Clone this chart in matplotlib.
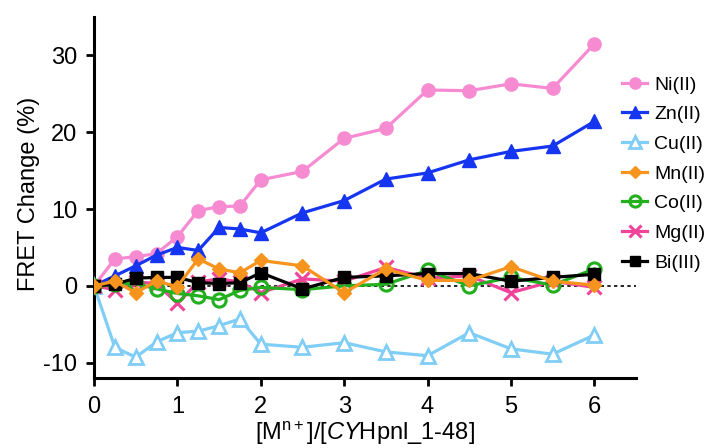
import numpy as np
import matplotlib
matplotlib.use("Agg")
import matplotlib.pyplot as plt

plt.rcParams['font.family'] = ['Liberation Sans', 'DejaVu Sans']
plt.rcParams['mathtext.fontset'] = 'custom'
plt.rcParams['mathtext.rm'] = 'Liberation Sans'
plt.rcParams['mathtext.it'] = 'Liberation Sans:italic'
plt.rcParams['axes.unicode_minus'] = False

# titration points (metal : sensor ratio)
ratio = [0, 0.25, 0.5, 0.75, 1, 1.25, 1.5, 1.75, 2, 2.5, 3, 3.5, 4, 4.5, 5, 5.5, 6]

ni = [0, 3.5, 3.8, 4.2, 6.4, 9.8, 10.3, 10.4, 13.8, 14.9, 19.2, 20.5, 25.5, 25.4, 26.3, 25.7, 31.5]
zn = [0, 1.3, 2.6, 4.0, 5.0, 4.6, 7.6, 7.4, 6.9, 9.5, 11.1, 13.9, 14.7, 16.4, 17.5, 18.2, 21.4]
cu = [0, -8.0, -9.3, -7.3, -6.1, -5.9, -5.2, -4.3, -7.6, -8.0, -7.4, -8.6, -9.1, -6.1, -8.2, -8.9, -6.4]
mn = [0, 0.6, -0.9, 0.6, -0.1, 3.5, 2.2, 1.7, 3.3, 2.6, -0.9, 2.2, 0.7, 0.7, 2.5, 0.6, 0.1]
co = [0, 0.2, 0.3, -0.4, -1.0, -1.3, -1.8, -0.6, -0.2, -0.5, 0.0, 0.2, 2.0, 0.0, 1.1, 0.1, 2.2]
mg = [0, -0.5, 0.5, 0.3, -2.3, 0.5, 0.9, 0.5, -0.9, 0.9, 0.6, 2.4, 1.0, 1.3, -0.9, 0.6, -0.2]
bi = [0, 0.2, 1.0, 1.1, 1.1, 0.4, 0.3, 0.4, 1.7, -0.4, 1.1, 1.3, 1.6, 1.6, 0.6, 1.1, 1.5]

labels = ['Ni(II)', 'Zn(II)', 'Cu(II)', 'Mn(II)', 'Co(II)', 'Mg(II)', 'Bi(III)']

fig = plt.figure(figsize=(7.11, 4.48), dpi=100)
ax = fig.add_axes([94/711, 1 - 378/448, (636 - 94)/711, (378 - 17)/448])

ax.axhline(0, color='black', lw=1.2, ls=(0, (2, 2)), zorder=1)

lw = 2.3
ax.plot(ratio, ni, color='#F78BD1', marker='o', ms=9.5, lw=lw, label=labels[0], zorder=3)
ax.plot(ratio, zn, color='#1535F0', marker='^', ms=10, lw=lw, label=labels[1], zorder=3)
ax.plot(ratio, cu, color='#80CDF5', marker='^', ms=10, lw=lw, mfc='white', mew=2,
        label=labels[2], zorder=3)
ax.plot(ratio, mg, color='#F0449B', marker='x', ms=10, lw=lw, mew=2.2, label=labels[5], zorder=3)
ax.plot(ratio, co, color='#22B01E', marker='o', ms=9.5, lw=lw, mfc='none', mew=2.2,
        label=labels[4], zorder=4)
ax.plot(ratio, bi, color='black', marker='s', ms=9, lw=lw, label=labels[6], zorder=5)
ax.plot(ratio, mn, color='#F7941D', marker='D', ms=7.5, lw=lw, label=labels[3], zorder=6)

ax.set_xlim(0, 6.5)
ax.set_ylim(-12, 35)
ax.set_xticks([0, 1, 2, 3, 4, 5, 6])
ax.set_yticks([-10, 0, 10, 20, 30])

for s in ['top', 'right']:
    ax.spines[s].set_visible(False)
for s in ['left', 'bottom']:
    ax.spines[s].set_linewidth(2.2)
ax.tick_params(direction='out', length=6, width=2, labelsize=17)
ax.tick_params(axis='x', pad=7)
ax.tick_params(axis='y', pad=6)

ax.set_ylabel('FRET Change (%)', fontsize=17)
ax.set_xlabel(r'[M$^{\mathregular{n+}}$]/[$\mathit{CY}$Hpnl_1-48]', fontsize=17)
ax.yaxis.set_label_coords(-0.10, 0.51)
ax.xaxis.set_label_coords(0.5, -0.115)

# legend in requested order
h, l = ax.get_legend_handles_labels()
order = [l.index(x) for x in labels]
ax.legend([h[i] for i in order], [l[i] for i in order],
          loc='upper left', bbox_to_anchor=(622/711, 1 - 76/448),
          bbox_transform=fig.transFigure, frameon=False, fontsize=14,
          handlelength=1.3, handletextpad=0.35, labelspacing=0.62,
          borderpad=0, borderaxespad=0, markerscale=0.85)

fig.savefig('out.png', dpi=100)
plt.close()
